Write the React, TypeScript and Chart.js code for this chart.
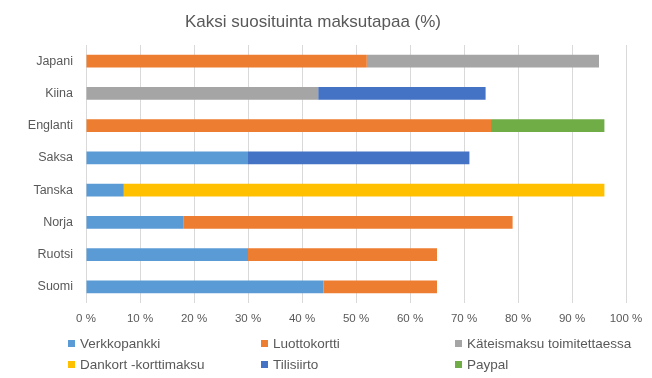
import React, { useEffect, useRef } from "react";
import { Chart, registerables } from "chart.js";

Chart.register(...registerables);

const countries = ["Japani", "Kiina", "Englanti", "Saksa", "Tanska", "Norja", "Ruotsi", "Suomi"];
const xTicks = [0, 10, 20, 30, 40, 50, 60, 70, 80, 90, 100];

const verkkopankki = [null, null, null, 30, 7, 18, 30, 44];
const luottokortti = [52, null, 75, null, null, 61, 35, 21];
const kateismaksu = [43, 43, null, null, null, null, null, null];
const dankort = [null, null, null, null, 89, null, null, null];
const tilisiirto = [null, 31, null, 41, null, null, null, null];
const paypal = [null, null, 21, null, null, null, null, null];

const seriesNames = [
  "Verkkopankki",
  "Luottokortti",
  "Käteismaksu toimitettaessa",
  "Dankort -korttimaksu",
  "Tilisiirto",
  "Paypal",
];
const seriesData = [verkkopankki, luottokortti, kateismaksu, dankort, tilisiirto, paypal];
const seriesColors = ["#5B9BD5", "#ED7D31", "#A5A5A5", "#FFC000", "#4472C4", "#70AD47"];

const FONT = "'Liberation Sans', Arial, sans-serif";
const TEXT = "#595959";

export default function App() {
  const ref = useRef<HTMLCanvasElement | null>(null);

  useEffect(() => {
    if (!ref.current) return;
    const chart = new Chart(ref.current, {
      type: "bar",
      data: {
        labels: countries,
        datasets: seriesNames.map((name, i) => ({
          label: name,
          data: seriesData[i],
          backgroundColor: seriesColors[i],
          borderWidth: 0,
          barPercentage: 0.4,
          categoryPercentage: 1,
        })),
      },
      options: {
        indexAxis: "y",
        responsive: false,
        animation: false,
        layout: { padding: { left: 0, right: 26, top: 0, bottom: 50 } },
        plugins: {
          legend: { display: false },
          tooltip: { enabled: false },
          title: {
            display: true,
            text: "Kaksi suosituinta maksutapaa (%)",
            color: TEXT,
            font: { family: FONT, size: 17, weight: "normal" },
            padding: { top: 12, bottom: 12.6 },
          },
        },
        scales: {
          x: {
            stacked: true,
            min: 0,
            max: 100,
            afterBuildTicks: (scale: any) => {
              scale.ticks = xTicks.map((v) => ({ value: v }));
            },
            afterFit: (scale: any) => {
              scale.height = 25;
            },
            grid: { color: "#D9D9D9", lineWidth: 1, drawTicks: false },
            border: { display: false },
            ticks: {
              color: TEXT,
              font: { family: FONT, size: 11.5 },
              padding: 9,
              maxRotation: 0,
              callback: (v: any) => v + " %",
            },
          },
          y: {
            stacked: true,
            afterFit: (scale: any) => {
              scale.width = 86;
            },
            grid: { display: false, drawTicks: false },
            border: { display: false },
            ticks: {
              color: TEXT,
              font: { family: FONT, size: 12.5 },
              padding: 13,
            },
          },
        },
      },
    });
    return () => chart.destroy();
  }, []);

  const colX = [68, 261, 455];
  const rowY = [343, 364];

  return (
    <div
      style={{
        position: "absolute",
        left: 0,
        top: 0,
        width: 652,
        height: 378,
        background: "#ffffff",
        overflow: "hidden",
      }}
    >
      <canvas ref={ref} width={652} height={378} style={{ display: "block", width: 652, height: 378 }} />
      {seriesNames.map((name, i) => {
        const col = i % 3;
        const row = Math.floor(i / 3);
        return (
          <div
            key={name}
            style={{
              position: "absolute",
              left: colX[col],
              top: rowY[row] - 9,
              height: 18,
              display: "flex",
              alignItems: "center",
              fontFamily: FONT,
              fontSize: 13.5,
              color: TEXT,
              whiteSpace: "nowrap",
            }}
          >
            <span
              style={{
                display: "inline-block",
                width: 7,
                height: 7,
                background: seriesColors[i],
                marginRight: 5,
              }}
            />
            <span>{name}</span>
          </div>
        );
      })}
    </div>
  );
}
